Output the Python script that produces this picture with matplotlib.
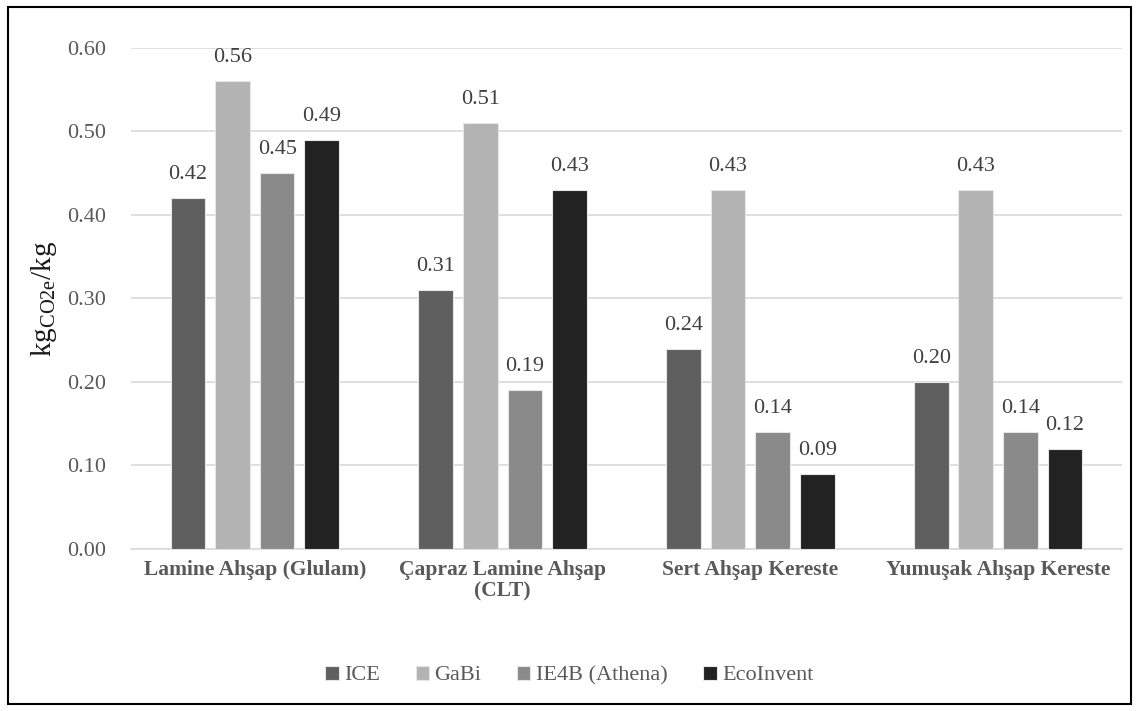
import matplotlib.pyplot as plt
import numpy as np
from matplotlib.patches import Rectangle

# kg CO2e per kg for each wood product and database
categories = ['Lamine Ahşap (Glulam)', 'Çapraz Lamine Ahşap\n(CLT)',
              'Sert Ahşap Kereste', 'Yumuşak Ahşap Kereste']
series = ['ICE', 'GaBi', 'IE4B (Athena)', 'EcoInvent']
ice = [0.42, 0.31, 0.24, 0.20]
gabi = [0.56, 0.51, 0.43, 0.43]
ie4b = [0.45, 0.19, 0.14, 0.14]
ecoinvent = [0.49, 0.43, 0.09, 0.12]
yticks = [0.0, 0.1, 0.2, 0.3, 0.4, 0.5, 0.6]

colors = ['#5f5f5f', '#b3b3b3', '#8a8a8a', '#222222']
values = [ice, gabi, ie4b, ecoinvent]

plt.rcParams['font.family'] = ['Liberation Serif', 'DejaVu Serif']

fig = plt.figure(figsize=(11.39, 7.11), dpi=100)
ax = fig.add_axes([0.115, 0.228, 0.870, 0.7046])

x = np.arange(len(categories))
w = 0.14
step = 0.18
for i, (name, vals, c) in enumerate(zip(series, values, colors)):
    pos = x + (i - 1.5) * step
    bars = ax.bar(pos, vals, w, color=c, edgecolor='#e6e6e6', linewidth=0.8,
                  label=name, zorder=3)
    for b, v in zip(bars, vals):
        ax.annotate('%.2f' % v, (b.get_x() + b.get_width() / 2, v),
                    xytext=(0, 10), textcoords='offset points',
                    ha='center', va='bottom', fontsize=16, color='#404040')

ax.set_xlim(-0.5, 3.5)
ax.set_ylim(0, 0.6)
ax.set_yticks(yticks)
ax.set_yticklabels(['%.2f' % t for t in yticks], fontsize=16, color='#595959')
ax.set_xticks(x)
ax.set_xticklabels(categories, fontsize=15.5, fontweight='bold', color='#595959',
                   linespacing=1.1)
ax.tick_params(axis='y', length=0, pad=18)
ax.tick_params(axis='x', length=0, pad=8)
ax.yaxis.grid(True, color='#d9d9d9', linewidth=1.2, zorder=0)
for s in ['top', 'right', 'left']:
    ax.spines[s].set_visible(False)
ax.spines['bottom'].set_color('#d9d9d9')
ax.spines['bottom'].set_linewidth(1.2)

ax.set_ylabel(r'kg$_{\mathregular{CO2e}}$/kg', fontsize=21, color='#1a1a1a',
              labelpad=6)

fig.legend(loc='center', bbox_to_anchor=(0.5, 0.05), ncol=4, frameon=False,
           fontsize=16, handlelength=0.6, handleheight=0.6, handletextpad=0.25,
           columnspacing=1.6, labelcolor='#595959')

# frame around the whole figure
fig.patches.append(Rectangle((0.007, 0.01), 0.986, 0.98, transform=fig.transFigure,
                             fill=False, edgecolor='black', linewidth=1.5))

fig.savefig('out.png', dpi=100)
